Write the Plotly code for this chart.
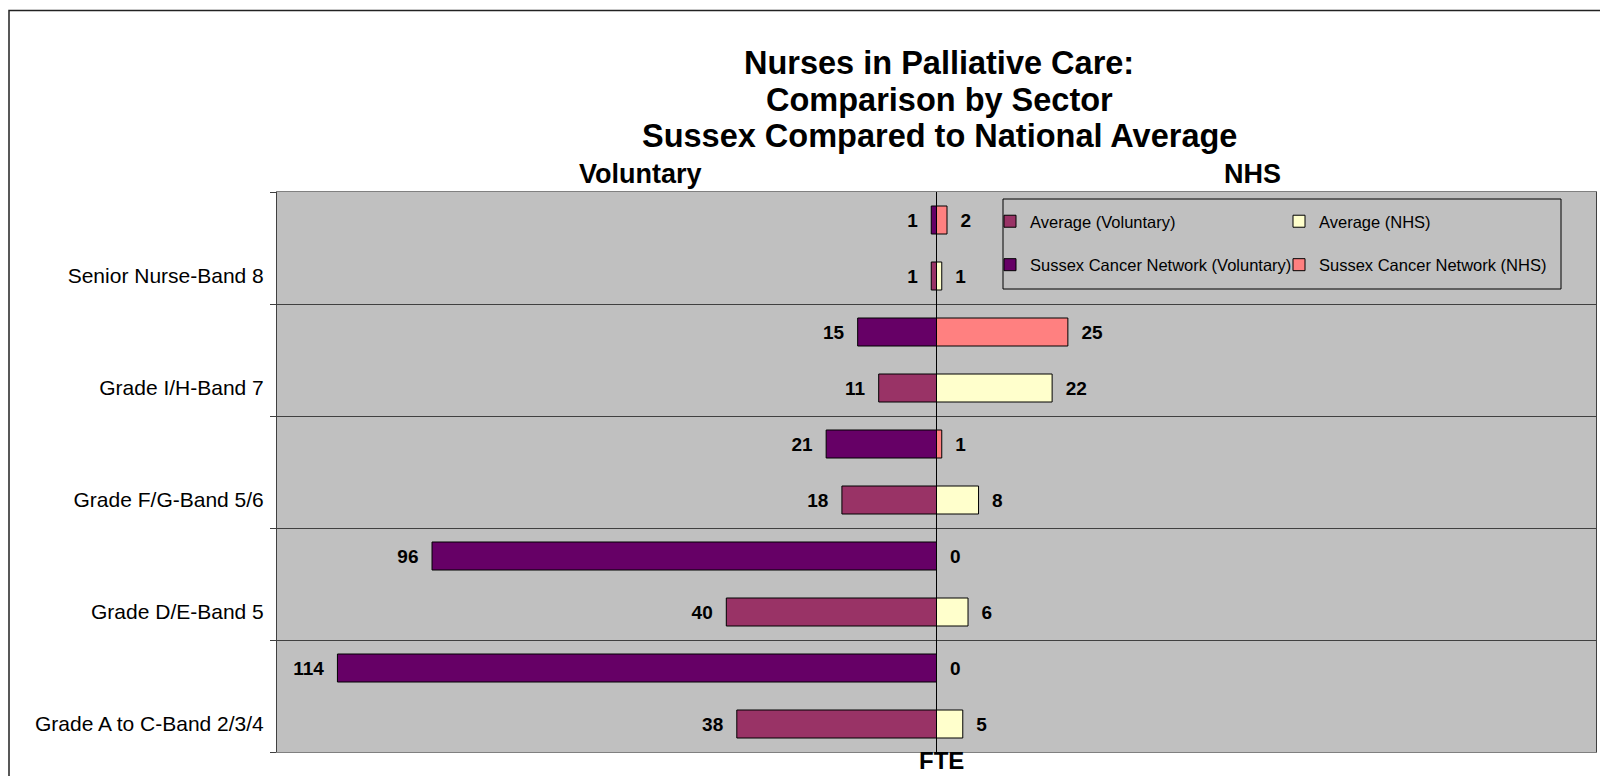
import plotly.graph_objects as go

# ---- data ----
categories = [
    "Grade A to C-Band 2/3/4",
    "Grade D/E-Band 5",
    "Grade F/G-Band 5/6",
    "Grade I/H-Band 7",
    "Senior Nurse-Band 8",
]
avg_voluntary = [38, 40, 18, 11, 1]
sussex_voluntary = [114, 96, 21, 15, 1]
avg_nhs = [5, 6, 8, 22, 1]
sussex_nhs = [0, 0, 1, 25, 2]

FONT = "Liberation Sans, Arial, Helvetica, sans-serif"
NB = "\u00a0"

# page has an 8px body margin; figure sized to fit inside it
OFF = 8
W, H = 1592, 768
L, R, T, B = 269, 4, 184, 24
PW, PH = W - L - R, H - T - B


def px(x):  # page pixel -> paper x
    return (x - OFF - L) / PW


def py(y):  # page pixel -> paper y
    return (H - B - (y - OFF)) / PH


ypos = list(range(len(categories)))

fig = go.Figure()

label_font = dict(family=FONT, size=19, color="black", weight="bold")


def add_bar(vals, name, color, side, top, legend, rank):
    sign = -1 if side == "vol" else 1
    texts = [(f"{v}{NB}{NB}" if side == "vol" else f"{NB}{NB}{v}") for v in vals]
    fig.add_trace(go.Bar(
        y=ypos,
        x=[sign * v for v in vals],
        orientation="h",
        name=name,
        marker=dict(color=color, line=dict(color="black", width=1)),
        width=0.25,
        offset=0.125 if top else -0.375,
        text=texts,
        textposition="outside",
        textfont=label_font,
        constraintext="none",
        cliponaxis=False,
        legend=legend,
        legendrank=rank,
        legendgroup=name,
        customdata=[[c, v] for c, v in zip(categories, vals)],
        hovertemplate=name + "<br>%{customdata[0]}: %{customdata[1]}<extra></extra>",
    ))


add_bar(avg_voluntary, "Average (Voluntary)", "#993366", "vol", False, "legend", 1)
add_bar(sussex_voluntary, "Sussex Cancer Network (Voluntary)", "#660066", "vol", True, "legend", 2)
add_bar(avg_nhs, "Average (NHS)", "#FFFFCC", "nhs", False, "legend2", 1)
add_bar(sussex_nhs, "Sussex Cancer Network (NHS)", "#FF8080", "nhs", True, "legend2", 2)

legend_common = dict(
    bgcolor="rgba(0,0,0,0)",
    font=dict(family=FONT, size=16.5, color="black"),
    orientation="v",
    tracegroupgap=19,
    xanchor="left",
    yanchor="top",
    borderwidth=0,
)

boundaries = [p - 0.5 for p in ypos] + [ypos[-1] + 0.5]

fig.update_layout(
    width=W,
    height=H,
    margin=dict(l=L, r=R, t=T, b=B, autoexpand=False),
    paper_bgcolor="white",
    plot_bgcolor="#C0C0C0",
    barmode="overlay",
    font=dict(family=FONT, color="black"),
    legend=dict(x=px(990), y=py(204), **legend_common),
    legend2=dict(x=px(1279), y=py(204), **legend_common),
    xaxis=dict(
        range=[-125.5, 125.5],
        showticklabels=False,
        ticks="",
        showgrid=False,
        zeroline=True,
        zerolinecolor="black",
        zerolinewidth=1,
        showline=True,
        linecolor="#808080",
        linewidth=1,
        mirror=True,
        fixedrange=True,
    ),
    yaxis=dict(
        range=[-0.5, len(categories) - 0.5],
        tickmode="array",
        tickvals=[p - 0.25 for p in ypos],
        ticktext=categories,
        ticks="",
        showgrid=False,
        zeroline=False,
        showline=True,
        linecolor="#404040",
        linewidth=1,
        mirror=True,
        tickfont=dict(family=FONT, size=21, color="black"),
        ticklabelstandoff=8,
        minor=dict(
            tickmode="array",
            tickvals=boundaries,
            ticks="outside",
            ticklen=6,
            tickcolor="#404040",
            showgrid=True,
            gridcolor="#404040",
            gridwidth=1,
        ),
        fixedrange=True,
    ),
    showlegend=True,
)

# legend frame
fig.add_shape(type="rect", xref="paper", yref="paper",
              x0=px(1003), x1=px(1561), y0=py(289), y1=py(199),
              line=dict(color="black", width=1), fillcolor="rgba(0,0,0,0)")
# outer chart border (left and top edges visible)
fig.add_shape(type="rect", xref="paper", yref="paper",
              x0=px(9), x1=px(1640), y0=py(820), y1=py(10.5),
              line=dict(color="#222222", width=1.5), fillcolor="rgba(0,0,0,0)")

# title lines
title_font = dict(family=FONT, size=32.5, color="black", weight="bold")
title_lines = ["Nurses in Palliative Care:", "Comparison by Sector",
               "Sussex Compared to National Average"]
for line, yy in zip(title_lines, [62.5, 99.5, 136.4]):
    fig.add_annotation(text=line, xref="paper", yref="paper", x=px(939), y=py(yy),
                       xanchor="center", yanchor="middle", showarrow=False, font=title_font)

side_font = dict(family=FONT, size=27, color="black", weight="bold")
fig.add_annotation(text="Voluntary", xref="paper", yref="paper", x=px(640), y=py(174),
                   xanchor="center", yanchor="middle", showarrow=False, font=side_font)
fig.add_annotation(text="NHS", xref="paper", yref="paper", x=px(1252.5), y=py(174),
                   xanchor="center", yanchor="middle", showarrow=False, font=side_font)
fig.add_annotation(text="FTE", xref="paper", yref="paper", x=px(941), y=py(775),
                   xanchor="center", yanchor="bottom", showarrow=False,
                   borderpad=0,
                   font=dict(family=FONT, size=24, color="black", weight="bold"))

fig.write_html("out.html")
